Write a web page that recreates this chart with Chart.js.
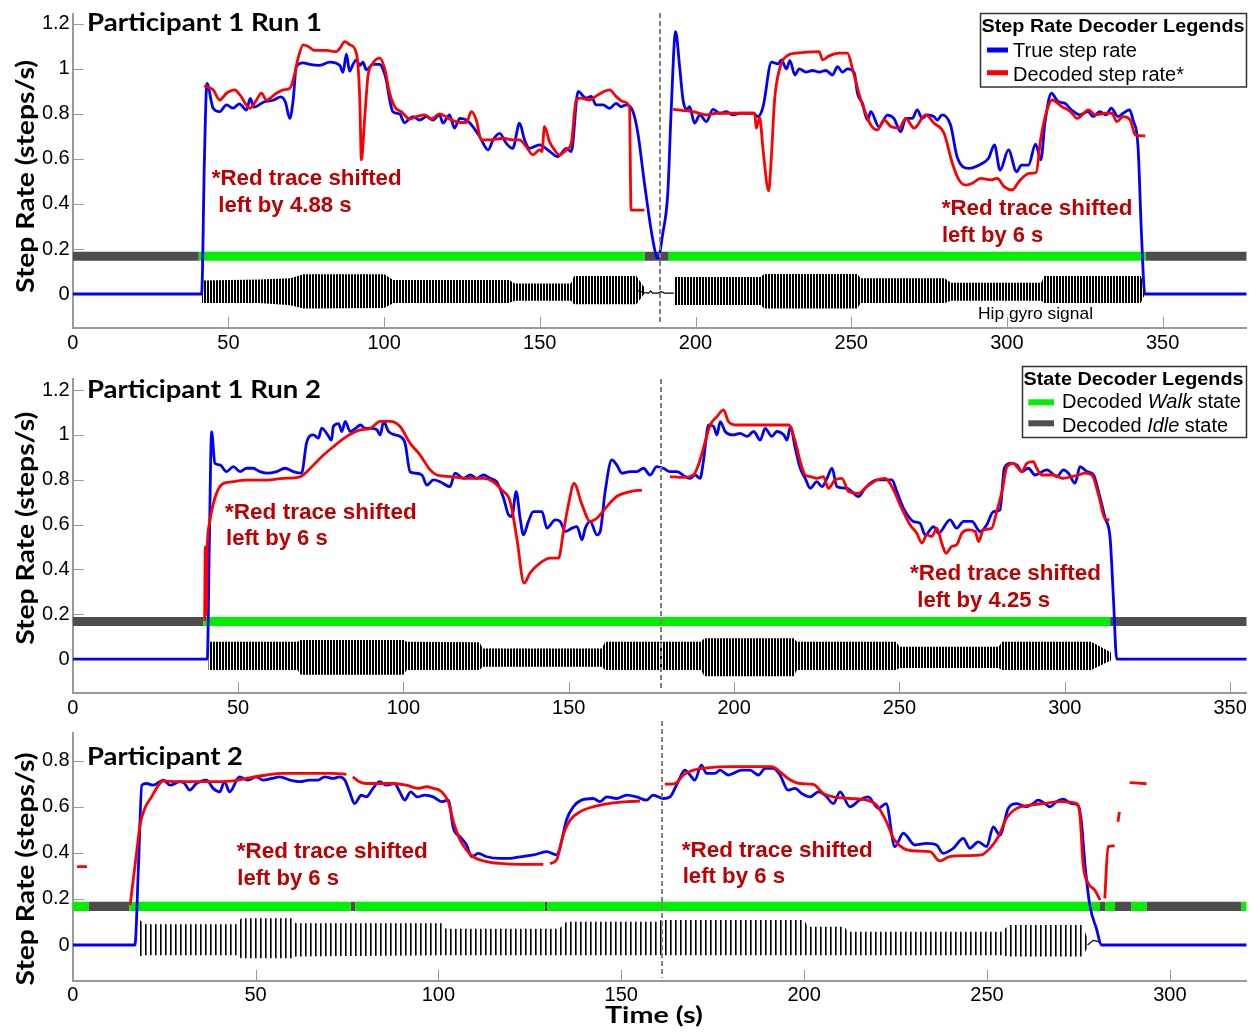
<!DOCTYPE html>
<html>
<head>
<meta charset="utf-8">
<script src="https://cdn.jsdelivr.net/npm/chart.js@4.4.1/dist/chart.umd.min.js"></script>
<style>
html, body { margin: 0; padding: 0; background: #fff; }
#wrap { position: relative; width: 1255px; height: 1032px; overflow: hidden; }
canvas { position: absolute; left: 0; }
#ov { position: absolute; left: 0; top: 0; }
.ttl { font-family: Lato, "Noto Sans", sans-serif; font-weight: 700; font-size: 24px; fill: #000; }
.ann { font-family: "Liberation Sans", Arial, sans-serif; font-weight: 700; font-size: 22px; fill: #c00000; }
.lg { font-family: "Liberation Sans", Arial, sans-serif; font-size: 19.5px; fill: #000; }
.lgt { font-family: "Liberation Sans", Arial, sans-serif; font-weight: 700; font-size: 18px; fill: #000; }
</style>
</head>
<body>
<div id="wrap">
  <canvas id="c1" width="1255" height="362" style="top:0px"></canvas>
  <canvas id="c2" width="1255" height="362" style="top:365px"></canvas>
  <canvas id="c3" width="1255" height="312" style="top:720px"></canvas>

  <svg id="ov" width="1255" height="1032" xmlns="http://www.w3.org/2000/svg">
    <!-- panel titles -->
    <text class="ttl" x="87" y="31" textLength="235" lengthAdjust="spacingAndGlyphs">Participant 1 Run 1</text>
    <text class="ttl" x="87" y="398" textLength="234" lengthAdjust="spacingAndGlyphs">Participant 1 Run 2</text>
    <text class="ttl" x="87" y="765" textLength="156" lengthAdjust="spacingAndGlyphs">Participant 2</text>

    <!-- y axis titles -->
    <text class="ttl" transform="translate(33.5,176.5) rotate(-90)" text-anchor="middle" textLength="233" lengthAdjust="spacingAndGlyphs">Step Rate (steps/s)</text>
    <text class="ttl" transform="translate(33.5,528.3) rotate(-90)" text-anchor="middle" textLength="233" lengthAdjust="spacingAndGlyphs">Step Rate (steps/s)</text>
    <text class="ttl" transform="translate(33.5,869) rotate(-90)" text-anchor="middle" textLength="233" lengthAdjust="spacingAndGlyphs">Step Rate (steps/s)</text>

    <!-- x axis title -->
    <text class="ttl" style="font-size:22px" x="605" y="1022.7" textLength="98" lengthAdjust="spacingAndGlyphs">Time (s)</text>

    <!-- red shift notes -->
    <text class="ann" x="211.7" y="185" textLength="190" lengthAdjust="spacingAndGlyphs">*Red trace shifted</text>
    <text class="ann" x="218.3" y="211.7" textLength="133.4" lengthAdjust="spacingAndGlyphs">left by 4.88 s</text>
    <text class="ann" x="941.7" y="215" textLength="190.7" lengthAdjust="spacingAndGlyphs">*Red trace shifted</text>
    <text class="ann" x="942" y="241.7" textLength="101.3" lengthAdjust="spacingAndGlyphs">left by 6 s</text>

    <text class="ann" x="225" y="519" textLength="191.7" lengthAdjust="spacingAndGlyphs">*Red trace shifted</text>
    <text class="ann" x="226" y="545" textLength="101.7" lengthAdjust="spacingAndGlyphs">left by 6 s</text>
    <text class="ann" x="910" y="580" textLength="191" lengthAdjust="spacingAndGlyphs">*Red trace shifted</text>
    <text class="ann" x="917.3" y="606.7" textLength="132.7" lengthAdjust="spacingAndGlyphs">left by 4.25 s</text>

    <text class="ann" x="236.7" y="857.7" textLength="191" lengthAdjust="spacingAndGlyphs">*Red trace shifted</text>
    <text class="ann" x="237.3" y="885" textLength="101.7" lengthAdjust="spacingAndGlyphs">left by 6 s</text>
    <text class="ann" x="681.7" y="856.7" textLength="191" lengthAdjust="spacingAndGlyphs">*Red trace shifted</text>
    <text class="ann" x="682.7" y="883.3" textLength="102.3" lengthAdjust="spacingAndGlyphs">left by 6 s</text>

    <text class="lg" style="font-size:17px" x="978" y="319" textLength="115" lengthAdjust="spacingAndGlyphs">Hip gyro signal</text>

    <!-- step rate legend -->
    <rect x="980.5" y="13.5" width="266" height="73.5" fill="#fff" stroke="#333" stroke-width="1.5"/>
    <text class="lgt" x="981.5" y="32.3" textLength="263" lengthAdjust="spacingAndGlyphs">Step Rate Decoder Legends</text>
    <line x1="987" y1="50" x2="1008" y2="50" stroke="#0000ff" stroke-width="5"/>
    <text class="lg" x="1013" y="56.7" textLength="124" lengthAdjust="spacingAndGlyphs">True step rate</text>
    <line x1="987" y1="72.7" x2="1008" y2="72.7" stroke="#ff0000" stroke-width="5"/>
    <text class="lg" x="1013" y="80.7" textLength="171" lengthAdjust="spacingAndGlyphs">Decoded step rate*</text>

    <!-- state legend -->
    <rect x="1022.5" y="366.5" width="224" height="71" fill="#fff" stroke="#333" stroke-width="1.5"/>
    <text class="lgt" x="1023.5" y="385" textLength="220" lengthAdjust="spacingAndGlyphs">State Decoder Legends</text>
    <line x1="1028.3" y1="402.3" x2="1054" y2="402.3" stroke="#00f000" stroke-width="6"/>
    <text class="lg" x="1062" y="408.3" textLength="179" lengthAdjust="spacingAndGlyphs">Decoded <tspan font-style="italic">Walk</tspan> state</text>
    <line x1="1028.3" y1="423.3" x2="1054" y2="423.3" stroke="#4d4d4d" stroke-width="6"/>
    <text class="lg" x="1062" y="432.3" textLength="166" lengthAdjust="spacingAndGlyphs">Decoded <tspan font-style="italic">Idle</tspan> state</text>
  </svg>
</div>

<script>
/* ===== Data (time s, step rate steps/s) ===== */

// Participant 1 Run 1
const p1True = [[0,0],[41.4,0],[42.3,0.6],[43.1,0.936],[45.1,0.825],[47.2,0.81],[49.4,0.84],[51.5,0.826],[53.5,0.845],[55.8,0.817],[57,0.869],[58.2,0.83],[61.4,0.853],[64.6,0.862],[66.8,0.876],[68.3,0.853],[69.7,0.78],[70.8,0.862],[71.8,1.01],[74,1.027],[76.1,1.02],[79.4,1.016],[82.5,1.03],[85.8,1.015],[86.8,0.985],[87.9,1.066],[88.9,0.99],[90,1.02],[91.1,1.04],[92.2,1.015],[93.2,1.03],[94.3,0.996],[96.4,1.02],[98.6,1.02],[99.7,0.996],[100.7,0.95],[101.8,0.862],[102.8,0.81],[105,0.8],[106.6,0.76],[108.2,0.78],[109.3,0.788],[111.4,0.773],[113.6,0.788],[115.7,0.773],[117.8,0.796],[118.9,0.759],[121,0.796],[122.6,0.737],[124.3,0.78],[126.4,0.773],[128.5,0.744],[130.7,0.699],[133.4,0.64],[135,0.685],[137.1,0.714],[139.2,0.67],[141.3,0.647],[143.5,0.759],[145.1,0.685],[146.7,0.647],[149.9,0.663],[152.6,0.64],[155.8,0.61],[158.5,0.647],[160.1,0.633],[162.3,0.9],[164.9,0.87],[166.5,0.878],[168.1,0.84],[170.3,0.84],[172.4,0.825],[174.5,0.847],[176.1,0.832],[177.7,0.84],[179.9,0.811],[181.5,0.714],[183.6,0.492],[186.3,0.24],[187.9,0.158],[189.5,0.27],[191.1,0.448],[192.2,0.82],[193.6,1.166],[194.9,1.01],[196,0.862],[197.1,0.82],[198.1,0.832],[199.7,0.759],[201.4,0.796],[203.5,0.766],[205.6,0.82],[207.8,0.803],[209.9,0.81],[212,0.796],[214.2,0.803],[218.5,0.803],[220.1,0.788],[221.7,0.832],[224.4,1.03],[226.5,1.022],[227.6,1.04],[229.2,1.0],[230.3,1.037],[231.9,0.973],[233.3,1.0],[235.5,0.986],[237.6,0.993],[239.7,0.986],[241.9,0.993],[244,0.973],[245.6,1.01],[247.2,0.986],[248.8,1.0],[251,0.982],[252,0.892],[253.6,0.847],[255.2,0.773],[256.3,0.81],[258.9,0.743],[261.6,0.795],[263.7,0.78],[265.9,0.721],[267.5,0.78],[269.6,0.78],[271.2,0.818],[272.8,0.78],[274.4,0.796],[276.6,0.788],[277.6,0.773],[279.2,0.796],[281.9,0.751],[284,0.61],[287.8,0.558],[292,0.58],[294.1,0.603],[296,0.662],[297.8,0.55],[300.5,0.64],[303.1,0.543],[304.7,0.573],[306.9,0.573],[309.2,0.666],[310.9,0.596],[312.2,0.759],[314.3,0.892],[316.4,0.855],[318.6,0.847],[320.7,0.818],[323.4,0.796],[326,0.81],[327.7,0.788],[329.8,0.81],[331.9,0.796],[333.5,0.826],[335.7,0.788],[337.3,0.803],[339.4,0.818],[340.5,0.773],[342.1,0.655],[343.2,0.27],[344.3,0],[377,0]];
const p1Decoded = [[42.2,0.925],[45.1,0.907],[47.2,0.862],[49.4,0.892],[52,0.907],[53.7,0.885],[56.9,0.825],[59,0.862],[60.6,0.892],[62.2,0.862],[65.4,0.892],[67.6,0.907],[69.7,0.914],[70.8,0.951],[72.4,1.048],[74,1.107],[75.6,1.1],[77.7,1.082],[81.5,1.082],[84.7,1.077],[85.8,1.092],[87.4,1.121],[89,1.107],[91.1,1.07],[92.2,0.862],[92.7,0.596],[93.8,0.788],[94.8,0.966],[96.4,1.025],[98.6,1.048],[100.2,1.0],[101.8,0.892],[103.4,0.832],[105.5,0.81],[108.2,0.778],[110.4,0.788],[113,0.796],[115.2,0.778],[117.8,0.8],[121,0.778],[124.3,0.762],[126.4,0.762],[128,0.81],[129.6,0.773],[131.2,0.685],[133.9,0.685],[138.2,0.692],[141.3,0.685],[143.5,0.685],[145.6,0.655],[147.8,0.618],[149.9,0.64],[150.7,0.633],[151.5,0.744],[153.1,0.677],[154.7,0.64],[156.3,0.618],[158.5,0.64],[160.1,0.67],[161.7,0.862],[163.3,0.87],[165.9,0.862],[168.6,0.884],[172.4,0.907],[174.5,0.878],[176.7,0.855],[178.8,0.832],[179.3,0.373],[183.6,0.373],[183.7,null],[192.8,0.82],[199.2,0.81],[203.5,0.796],[206.7,0.803],[212,0.803],[216.3,0.803],[219,0.803],[219.5,0.737],[220.6,0.784],[221.7,0.64],[223.5,0.458],[224.3,0.596],[225.4,0.862],[227,1.0],[229.6,1.06],[232.3,1.07],[239.7,1.077],[240.8,1.04],[242.9,1.058],[246.1,1.07],[248.8,1.07],[250.4,1.0],[252.6,0.885],[254.7,0.8],[256.3,0.751],[258.4,0.729],[260.6,0.773],[262.7,0.744],[265.4,0.737],[267.5,0.78],[270.2,0.737],[273.9,0.796],[276.6,0.759],[279.8,0.714],[282.5,0.58],[284.6,0.507],[286.8,0.484],[288.9,0.492],[291.6,0.514],[294.8,0.507],[296.9,0.514],[299.1,0.477],[301.7,0.462],[303.9,0.5],[307.1,0.536],[309.4,0.54],[310.8,0.685],[312.9,0.818],[314.5,0.862],[317.7,0.832],[320.4,0.81],[322.6,0.78],[326.2,0.818],[328.4,0.796],[331.6,0.803],[333.7,0.803],[335.3,0.766],[337.4,0.788],[339.6,0.773],[341.2,0.707],[344.4,0.702]];
const p1States = [["idle",0,40.5],["walk",40.5,183.6],["idle",183.6,191.4],["walk",191.4,344.6],["idle",344.6,377]];
const p1GyroHi = [[41.5,0.06],[60,0.065],[70,0.07],[74,0.088],[100,0.088],[103,0.062],[140,0.062],[142,0.047],[160,0.047],[161,0.08],[181,0.08],[183.5,0.03],[183.6,null],[193,0.076],[221,0.076],[222,0.089],[252,0.089],[253,0.07],[280,0.07],[282,0.05],[311,0.05],[312,0.08],[343,0.08],[344.3,0.02]];
const p1GyroLo = [[41.5,-0.04],[60,-0.04],[70,-0.05],[74,-0.064],[100,-0.062],[103,-0.04],[140,-0.04],[142,-0.03],[160,-0.03],[161,-0.045],[181,-0.045],[183.5,0],[183.6,null],[193,-0.049],[221,-0.049],[222,-0.064],[252,-0.064],[253,-0.04],[280,-0.04],[282,-0.03],[311,-0.03],[312,-0.04],[343,-0.04],[344.3,0]];
const p1GyroQuiet = [[181.5,0.015],[183.5,0.006],[185,0.004],[185.6,0.014],[186.2,0.004],[188,0.004],[189,0.01],[190,0.004],[193,0.004]];

// Participant 1 Run 2
const p2True = [[0,0],[40.7,0],[41.3,0.5],[42,1.014],[43,0.873],[44.5,0.866],[46.5,0.836],[48.6,0.858],[50.6,0.836],[52.6,0.851],[54.6,0.851],[56.6,0.836],[58.7,0.829],[61.7,0.836],[64.2,0.851],[66.7,0.836],[69.2,0.829],[70.8,0.97],[72.8,1.0],[74.3,0.985],[75.3,1.03],[76.8,1.007],[78.3,0.977],[78.8,1.037],[80.4,1.05],[81.4,1.015],[82.4,1.06],[83.9,1.015],[85.5,1.029],[87,1.044],[88.5,1.029],[90.5,1.029],[92,1.022],[93,1.0],[94,1.06],[95.5,1.015],[97.5,1.0],[99,0.993],[100.5,0.963],[102,0.836],[103.5,0.829],[105.6,0.821],[107.1,0.776],[109.1,0.799],[111.1,0.791],[114.1,0.769],[115.6,0.829],[118.2,0.806],[120.2,0.821],[122.2,0.806],[124.2,0.821],[126.2,0.806],[128.2,0.791],[130.3,0.717],[131.8,0.643],[132.8,0.636],[134.1,0.747],[135.3,0.628],[136.3,0.554],[137.8,0.614],[139.3,0.658],[141.9,0.658],[143.4,0.584],[145.9,0.621],[147.4,0.614],[149,0.569],[151,0.584],[152.5,0.591],[154,0.532],[155,0.584],[156.5,0.614],[158.5,0.554],[159.5,0.569],[161,0.747],[163,0.888],[164.5,0.866],[166.1,0.829],[168.6,0.836],[170.6,0.836],[172.6,0.851],[174.6,0.821],[176.6,0.858],[178.6,0.851],[180.6,0.836],[182.7,0.836],[185.2,0.814],[186.7,0.806],[188.2,0.821],[189.7,0.806],[190.7,0.881],[192.3,1.044],[193.8,1.037],[194.8,1.0],[195.8,1.059],[197.3,1.015],[199.8,1.0],[201.8,1.007],[203.9,0.993],[205.9,1.015],[207.9,0.977],[209.4,1.029],[211.4,0.993],[212.9,1.015],[215,1.0],[216,0.977],[217,1.037],[218.5,0.94],[220,0.851],[221.5,0.806],[223,0.762],[225,0.791],[226.6,0.769],[228.1,0.806],[229.6,0.851],[231.1,0.769],[234.1,0.762],[235.6,0.747],[237.6,0.725],[239.6,0.762],[243.2,0.799],[245.2,0.799],[247.7,0.799],[249.2,0.747],[251.2,0.673],[254.2,0.614],[256.2,0.606],[257.8,0.554],[260.3,0.591],[261.8,0.562],[265.3,0.621],[267.3,0.584],[269.4,0.614],[271.9,0.614],[274.4,0.569],[276.4,0.599],[278.4,0.658],[280.4,0.665],[281.7,0.851],[283.5,0.873],[285.5,0.866],[287,0.836],[289,0.851],[291,0.821],[294.6,0.844],[297.6,0.814],[299.6,0.844],[301.1,0.829],[303.1,0.784],[304.6,0.858],[306.7,0.836],[308.7,0.821],[310.2,0.747],[312.2,0.628],[313.7,0.539],[314.7,0.271],[315.7,0],[355,0]];
const p2Decoded = [[39.9,0.17],[40.1,0.5],[40.4,0.2],[40.7,0.5],[41.3,0.6],[42.3,0.68],[43.8,0.75],[45.5,0.783],[48,0.79],[52.6,0.798],[58.7,0.798],[63.7,0.806],[68.7,0.813],[71.8,0.85],[74.8,0.896],[78.9,0.948],[82.9,0.993],[86.9,1.022],[90,1.029],[93,1.06],[96.1,1.06],[99,1.037],[102,0.963],[105,0.911],[108.1,0.844],[110.1,0.821],[114.1,0.814],[119.2,0.806],[124.2,0.806],[127.2,0.791],[129.7,0.754],[132.3,0.702],[134.3,0.539],[136.5,0.339],[138.3,0.384],[141.3,0.428],[144.4,0.45],[146.9,0.45],[148.4,0.569],[149.9,0.688],[151.6,0.784],[154,0.688],[156.5,0.614],[158.5,0.628],[161.5,0.68],[164.5,0.725],[168.6,0.747],[172.1,0.754],[172.2,null],[180.6,0.814],[184.7,0.81],[187.7,0.821],[189.2,0.866],[190.7,0.94],[192.8,1.044],[194.8,1.081],[196.8,1.111],[198.3,1.059],[200.8,1.044],[209.9,1.044],[216.5,1.044],[218.5,0.97],[220,0.881],[221.5,0.821],[223,0.814],[225,0.806],[227,0.814],[228.5,0.762],[230.5,0.799],[232.6,0.806],[234.6,0.747],[237.6,0.739],[240.1,0.769],[243.2,0.799],[245.7,0.806],[247.7,0.769],[250.2,0.688],[253.2,0.599],[255.2,0.562],[256.8,0.517],[258.3,0.554],[259.8,0.547],[261.3,0.584],[262.8,0.517],[264.1,0.472],[265.8,0.502],[267.3,0.51],[268.9,0.562],[270.9,0.576],[272.9,0.569],[273.9,0.524],[275.4,0.576],[277.9,0.584],[279.4,0.658],[281,0.747],[282.5,0.858],[284.5,0.873],[285.5,0.858],[287,0.836],[288.5,0.873],[290.5,0.881],[291.5,0.851],[293.1,0.821],[296.6,0.821],[299.6,0.806],[302.1,0.814],[304.1,0.821],[306.1,0.829],[308.2,0.821],[310.2,0.732],[312.2,0.625],[313.5,0.621]];
const p2States = [["idle",0,39.5],["walk",39.5,313.7],["idle",313.7,355]];
const p2GyroHi = [[41,0.078],[68,0.078],[69,0.085],[100,0.085],[101,0.078],[123,0.075],[124,0.047],[160,0.047],[161,0.078],[190,0.078],[191,0.093],[218,0.093],[219,0.078],[249,0.078],[250,0.055],[280,0.055],[281,0.078],[308,0.078],[314,0.03]];
const p2GyroLo = [[41,-0.048],[68,-0.048],[69,-0.07],[100,-0.07],[101,-0.048],[123,-0.048],[124,-0.034],[160,-0.034],[161,-0.048],[190,-0.048],[191,-0.076],[218,-0.076],[219,-0.048],[249,-0.048],[250,-0.04],[280,-0.04],[281,-0.048],[308,-0.048],[314,-0.005]];

// Participant 2
const p3True = [[0,0],[17,0],[18,0.35],[18.9,0.694],[20.2,0.701],[22,0.694],[24.8,0.716],[26.6,0.694],[29.3,0.709],[30.6,0.701],[32,0.672],[33.8,0.701],[36.6,0.716],[38.4,0.68],[40.2,0.665],[41.5,0.709],[42.9,0.665],[45.6,0.73],[47.9,0.716],[50.2,0.73],[52,0.716],[54.4,0.723],[56.6,0.73],[59.4,0.716],[62.1,0.709],[64.8,0.716],[67.1,0.716],[68.9,0.73],[71.2,0.723],[73,0.73],[74.4,0.716],[75.7,0.665],[77.1,0.614],[78.9,0.65],[80.3,0.643],[82.1,0.68],[83.9,0.709],[85.7,0.694],[88,0.701],[89.4,0.665],[90.8,0.629],[92.4,0.665],[94.2,0.643],[96.3,0.651],[98.6,0.643],[100.9,0.622],[102.7,0.629],[104.1,0.506],[105.9,0.47],[107.7,0.434],[109.1,0.383],[110.9,0.398],[113.2,0.383],[116.8,0.376],[119.6,0.376],[122.3,0.383],[126,0.391],[129.6,0.405],[132.3,0.391],[133.2,0.42],[135,0.542],[136.9,0.6],[139.1,0.629],[142.3,0.636],[144.2,0.622],[146,0.643],[148.7,0.636],[151.5,0.651],[154.2,0.643],[156.9,0.629],[158.7,0.651],[161.5,0.636],[163.3,0.643],[165.1,0.694],[167.4,0.759],[168.8,0.738],[170.1,0.716],[171.9,0.781],[173.3,0.745],[175.6,0.745],[177,0.759],[179.3,0.738],[180.6,0.745],[182.9,0.759],[185.2,0.759],[187.5,0.738],[189.3,0.767],[191.5,0.767],[193.4,0.738],[195.6,0.672],[197.5,0.68],[199.3,0.658],[201.6,0.643],[203.9,0.665],[205.7,0.651],[208,0.614],[209.8,0.665],[212.5,0.6],[215.2,0.629],[217.5,0.643],[220.3,0.593],[222.4,0.614],[224.8,0.427],[227.1,0.485],[230.3,0.434],[233.5,0.441],[236.2,0.434],[238,0.398],[240.8,0.42],[243.5,0.463],[245.3,0.42],[247.6,0.448],[249.9,0.427],[251.7,0.513],[253.5,0.477],[255.8,0.593],[258.1,0.614],[260.8,0.6],[262.6,0.614],[264,0.629],[265.8,0.614],[267.2,0.6],[269,0.622],[270.8,0.633],[273.1,0.614],[274.9,0.607],[275.8,0.535],[276.8,0.347],[278.1,0.173],[279.9,0.072],[281.3,0],[321,0]];
const p3Decoded = [[1.2,0.34],[3.9,0.34],[4,null],[15.7,0.173],[16.6,0.289],[17.5,0.405],[18.4,0.52],[19.7,0.593],[21.6,0.644],[22.9,0.68],[24.7,0.712],[28.4,0.709],[34.8,0.709],[39.3,0.709],[43.9,0.712],[47.5,0.723],[53,0.738],[57.5,0.745],[62.1,0.745],[67.5,0.745],[71.2,0.745],[74.8,0.741],[75,null],[76.6,0.73],[78.4,0.709],[80.3,0.701],[83.9,0.701],[87.5,0.701],[91.2,0.694],[94.4,0.68],[96.8,0.687],[98.6,0.68],[100.9,0.665],[102.7,0.622],[104.1,0.535],[105.9,0.456],[107.7,0.412],[109.5,0.383],[113.2,0.362],[116.8,0.354],[122.3,0.35],[128.7,0.35],[129,null],[130.5,0.354],[132.3,0.369],[134.1,0.477],[136,0.542],[138.7,0.578],[142.3,0.6],[146.9,0.615],[151.5,0.622],[155.1,0.625],[155.2,null],[161.9,0.698],[164.7,0.701],[167,0.738],[169.7,0.759],[174.2,0.77],[180.6,0.774],[185.2,0.774],[191.1,0.774],[193.4,0.752],[195.6,0.723],[198.8,0.701],[202.5,0.697],[205.2,0.658],[208,0.643],[212.5,0.636],[217.1,0.629],[219.8,0.607],[222.5,0.535],[224.4,0.463],[227.1,0.42],[230.7,0.408],[234.4,0.405],[237.1,0.365],[239.8,0.384],[244.4,0.388],[248.5,0.391],[250.8,0.42],[253.1,0.47],[255.3,0.55],[258.1,0.593],[261.7,0.607],[265.4,0.614],[269.9,0.622],[274.5,0.614],[275.4,0.564],[276.3,0.347],[277.7,0.267],[279.5,0.238],[280.9,0.195],[281.2,null],[282.2,0.202],[283.1,0.427],[284.9,0.43],[285,null],[285.8,0.535],[286.2,0.578],[286.3,null],[289,0.705],[293.6,0.7]];
const p3States = [["walk",0,4.3],["idle",4.3,15.5],["walk",15.5,76],["idle",76,77.3],["walk",77.3,129.1],["idle",129.1,129.7],["walk",129.7,280.9],["idle",280.9,282.3],["walk",282.3,285],["idle",285,289.5],["walk",289.5,293.6],["idle",293.6,319.6],["walk",319.6,321]];
const p3GyroHi = [[17.5,0.116],[20,0.09],[45,0.09],[46,0.116],[60,0.116],[61,0.094],[101,0.094],[102,0.07],[133,0.07],[135,0.101],[160,0.101],[161,0.108],[200,0.108],[201,0.079],[211,0.079],[212,0.058],[254,0.058],[256,0.087],[276,0.087],[278,0.01]];
const p3GyroLo = [[17.5,-0.05],[20,-0.044],[45,-0.044],[46,-0.058],[60,-0.058],[61,-0.05],[101,-0.044],[133,-0.044],[135,-0.044],[254,-0.044],[256,-0.05],[276,-0.05],[278,0]];
const p3GyroQuiet = [[277.5,0],[279,0.02],[280.5,0.015],[281.3,0]];

// axes
const xTicks1 = [0, 50, 100, 150, 200, 250, 300, 350];
const xTicks3 = [0, 50, 100, 150, 200, 250, 300];
const yTicks12 = [0, 0.2, 0.4, 0.6, 0.8, 1, 1.2];
const yTicks3 = [0, 0.2, 0.4, 0.6, 0.8];
const dividerAt = [188.7, 177.9, 161.0];

/* ===== Styles ===== */

Chart.defaults.font.family = "'Liberation Sans', Arial, sans-serif";
Chart.defaults.color = "#000";

const BLUE = "#0000ff";
const RED = "#ff0000";
const WALK = "#00f000";
const IDLE = "#4d4d4d";
const AXIS = "#9a9a9a";
const BAR_LEVEL = 0.168;

// vertical hatch that stands in for the dense gyro oscillation
function stripes(period, dark, soft) {
  const c = document.createElement("canvas");
  c.width = period;
  c.height = 1;
  const g = c.getContext("2d");
  g.fillStyle = "#000";
  g.fillRect(0, 0, dark, 1);
  g.fillStyle = "rgba(0,0,0,0.6)";
  g.fillRect(dark, 0, soft, 1);
  return g.createPattern(c, "repeat");
}

/* ===== Helpers ===== */

function pts(arr) {
  return arr.map(p => ({ x: p[0], y: p[1] }));
}

function splitSegs(arr) {
  const out = [];
  let cur = [];
  arr.forEach(p => {
    if (p[1] === null) {
      if (cur.length) out.push(cur);
      cur = [];
    } else {
      cur.push(p);
    }
  });
  if (cur.length) out.push(cur);
  return out;
}

function stateSets(states, width) {
  const walk = [], idle = [];
  states.forEach(s => {
    const target = s[0] === "walk" ? walk : idle;
    target.push({ x: s[1], y: BAR_LEVEL }, { x: s[2], y: BAR_LEVEL }, { x: s[2], y: null });
  });
  return [
    { data: walk, borderColor: WALK, borderWidth: width, borderCapStyle: "butt", pointRadius: 0, order: 2 },
    { data: idle, borderColor: IDLE, borderWidth: width, borderCapStyle: "butt", pointRadius: 0, order: 2 }
  ];
}

function gyroSets(hi, lo, quiet, pattern) {
  const H = splitSegs(hi), L = splitSegs(lo);
  const sets = [];
  H.forEach((seg, i) => {
    sets.push({ data: pts(seg), borderWidth: 0, pointRadius: 0, fill: "+1", backgroundColor: pattern, order: 4 });
    sets.push({ data: pts(L[i]), borderWidth: 0, pointRadius: 0, fill: false, order: 4 });
  });
  if (quiet) {
    sets.push({ data: pts(quiet), borderColor: "#000", borderWidth: 1.2, pointRadius: 0, order: 3 });
  }
  return sets;
}

/* ===== Plugins ===== */

// tick marks point into the plot, like the original figure
const innerTicks = {
  id: "innerTicks",
  beforeDatasetsDraw(chart) {
    const { ctx, chartArea: a, scales: { x, y } } = chart;
    ctx.save();
    ctx.strokeStyle = AXIS;
    ctx.lineWidth = 1;
    x.ticks.forEach(t => {
      const px = Math.round(x.getPixelForValue(t.value)) + 0.5;
      ctx.beginPath();
      ctx.moveTo(px, a.bottom);
      ctx.lineTo(px, a.bottom - 11);
      ctx.stroke();
    });
    y.ticks.forEach(t => {
      const py = Math.round(y.getPixelForValue(t.value)) + 0.5;
      ctx.beginPath();
      ctx.moveTo(a.left, py);
      ctx.lineTo(a.left + 11, py);
      ctx.stroke();
    });
    ctx.restore();
  }
};

const divider = {
  id: "divider",
  afterDatasetsDraw(chart, args, opts) {
    const { ctx, chartArea: a, scales: { x } } = chart;
    const px = Math.round(x.getPixelForValue(opts.at));
    ctx.save();
    ctx.strokeStyle = "#808080";
    ctx.lineWidth = 2;
    ctx.setLineDash([5, 3]);
    ctx.beginPath();
    ctx.moveTo(px, opts.top);
    ctx.lineTo(px, a.bottom - 3);
    ctx.stroke();
    ctx.restore();
  }
};

/* ===== Panels ===== */

function makePanel(id, p) {
  return new Chart(document.getElementById(id), {
    type: "line",
    data: {
      datasets: [
        { data: pts(p.dec), borderColor: RED, borderWidth: 2.8, pointRadius: 0, cubicInterpolationMode: "monotone", order: 0 },
        { data: pts(p.tru), borderColor: BLUE, borderWidth: 2.8, pointRadius: 0, cubicInterpolationMode: "monotone", order: 1 },
        ...stateSets(p.states, p.barW),
        ...gyroSets(p.hi, p.lo, p.quiet, p.pattern)
      ]
    },
    options: {
      responsive: false,
      animation: false,
      devicePixelRatio: 1,
      layout: { padding: { top: p.padTop, right: 8.3, left: 0, bottom: 0 } },
      elements: { line: { tension: 0 } },
      plugins: {
        legend: { display: false },
        tooltip: { enabled: false },
        divider: { at: p.divider, top: p.divTop }
      },
      scales: {
        x: {
          type: "linear",
          min: 0,
          max: p.xMax,
          grid: { display: false, drawTicks: false },
          border: { color: AXIS, width: 2 },
          ticks: { padding: 5, maxRotation: 0, autoSkip: false, font: { size: 20, lineHeight: 1 }, callback: v => String(v) },
          afterBuildTicks: ax => { ax.ticks = p.xTicks.map(v => ({ value: v })); },
          afterFit: ax => { ax.height = p.xAxisH; }
        },
        y: {
          min: p.yMin,
          max: p.yMax,
          grid: { display: false, drawTicks: false },
          border: { color: AXIS, width: 2 },
          ticks: { padding: 3, autoSkip: false, font: { size: 20, lineHeight: 1 }, callback: v => String(+(+v).toFixed(1)) },
          afterBuildTicks: ax => { ax.ticks = p.yTicks.map(v => ({ value: v })); },
          afterFit: ax => { ax.width = 72.7; }
        }
      }
    },
    plugins: [innerTicks, divider]
  });
}

makePanel("c1", {
  tru: p1True, dec: p1Decoded, states: p1States,
  hi: p1GyroHi, lo: p1GyroLo, quiet: p1GyroQuiet, pattern: stripes(3, 2, 0),
  xMax: 377, yMin: -0.151, yMax: 1.244, xTicks: xTicks1, yTicks: yTicks12,
  padTop: 14, xAxisH: 34, barW: 9, divider: dividerAt[0], divTop: 13
});

makePanel("c2", {
  tru: p2True, dec: p2Decoded, states: p2States,
  hi: p2GyroHi, lo: p2GyroLo, quiet: null, pattern: stripes(3, 2, 0),
  xMax: 355, yMin: -0.151, yMax: 1.249, xTicks: xTicks1, yTicks: yTicks12,
  padTop: 14, xAxisH: 34, barW: 9, divider: dividerAt[1], divTop: 14
});

makePanel("c3", {
  tru: p3True, dec: p3Decoded, states: p3States,
  hi: p3GyroHi, lo: p3GyroLo, quiet: p3GyroQuiet, pattern: stripes(5, 1, 1),
  xMax: 321, yMin: -0.155, yMax: 0.919, xTicks: xTicks3, yTicks: yTicks3,
  padTop: 13.3, xAxisH: 51.3, barW: 9.3, divider: dividerAt[2], divTop: -7
});
</script>
</body>
</html>
